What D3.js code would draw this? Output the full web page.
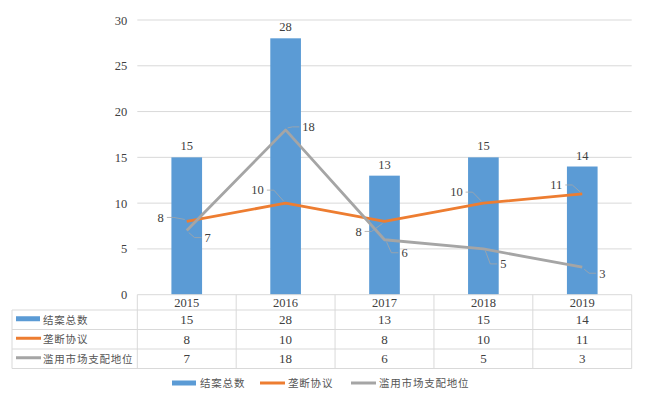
<!DOCTYPE html>
<html>
<head>
<meta charset="utf-8">
<script src="https://cdn.jsdelivr.net/npm/d3@7"></script>
<style>
	body { margin: 0; background: #fff; }
	svg { display: block; }
</style>
</head>
<body>
<script>
// chart data
var years = ['2015', '2016', '2017', '2018', '2019'];
var totalCases = [15, 28, 13, 15, 14];
var monopolyAgreements = [8, 10, 8, 10, 11];
var dominanceAbuse = [7, 18, 6, 5, 3];
var yTicks = [0, 5, 10, 15, 20, 25, 30];
var seriesNames = ['结案总数', '垄断协议', '滥用市场支配地位'];

// label offsets for the two line series (relative to the point)
var agreementLabelOffset = [[-26, -4], [-28, -13], [-26, 10], [-27, -11], [-26, -9]];
var abuseLabelOffset = [[21, 7], [23, -3], [20, 13], [20, 15], [20, 6]];

var W = 647, H = 398;
var BLUE = '#5B9BD5', ORANGE = '#ED7D31', GRAY = '#A5A5A5';
var GRID = '#D9D9D9';
var NUM_FONT = '"Liberation Serif", "Times New Roman", serif';
var CJK_FONT = '"Noto Sans CJK SC", sans-serif';
var TEXT = '#404040';

var svg = d3.select('body').append('svg')
	.attr('width', W)
	.attr('height', H);

var x = d3.scaleBand().domain(years).range([137.3, 631.7]);
var y = d3.scaleLinear().domain([0, 30]).range([294.7, 20]);
var barW = x.bandwidth() * 0.31;
var cx = function(i) { return x(years[i]) + x.bandwidth() / 2; };

// ------------------------ GRIDLINES + Y AXIS ------------------------
svg.append('g').selectAll('line')
	.data(yTicks.filter(function(t) { return t > 0; }))
	.enter().append('line')
	.attr('x1', x.range()[0]).attr('x2', x.range()[1])
	.attr('y1', function(d) { return y(d); }).attr('y2', function(d) { return y(d); })
	.attr('stroke', GRID).attr('stroke-width', 1);

var yAxis = svg.append('g')
	.attr('transform', 'translate(' + (x.range()[0] - 10) + ',0)')
	.call(d3.axisLeft(y).tickValues(yTicks).tickSize(0).tickPadding(0));
yAxis.select('.domain').remove();
yAxis.selectAll('text')
	.attr('font-family', NUM_FONT)
	.attr('font-size', '12.5px')
	.attr('fill', TEXT);

// ------------------------ BARS ------------------------
svg.append('g').selectAll('rect')
	.data(totalCases)
	.enter().append('rect')
	.attr('x', function(d, i) { return cx(i) - barW / 2; })
	.attr('y', function(d) { return y(d); })
	.attr('width', barW)
	.attr('height', function(d) { return y(0) - y(d); })
	.attr('fill', BLUE);

svg.append('g').selectAll('text')
	.data(totalCases)
	.enter().append('text')
	.attr('x', function(d, i) { return cx(i); })
	.attr('y', function(d) { return y(d) - 7; })
	.attr('text-anchor', 'middle')
	.attr('font-family', NUM_FONT)
	.attr('font-size', '12.5px')
	.attr('fill', TEXT)
	.text(function(d) { return d; });

// ------------------------ LINES ------------------------
var line = d3.line()
	.x(function(d, i) { return cx(i); })
	.y(function(d) { return y(d); });

svg.append('path').datum(monopolyAgreements)
	.attr('d', line).attr('fill', 'none')
	.attr('stroke', ORANGE).attr('stroke-width', 2.8)
	.attr('stroke-linejoin', 'round');

svg.append('path').datum(dominanceAbuse)
	.attr('d', line).attr('fill', 'none')
	.attr('stroke', GRAY).attr('stroke-width', 2.8)
	.attr('stroke-linejoin', 'round');

// data labels with little leader lines
function lineLabels(values, offsets) {
	var g = svg.append('g');
	values.forEach(function(v, i) {
		var px = cx(i), py = y(v);
		var lx = px + offsets[i][0], ly = py + offsets[i][1];
		var t = g.append('text')
			.attr('x', lx).attr('y', ly + 4.3)
			.attr('text-anchor', 'middle')
			.attr('font-family', NUM_FONT)
			.attr('font-size', '12.5px')
			.attr('fill', TEXT)
			.text(v);
		var tw = t.node().getComputedTextLength();
		var dir = offsets[i][0] < 0 ? 1 : -1; // leader heads toward the point
		var sx = lx + dir * (tw / 2 + 3);
		var ex = sx + dir * 7;
		var endX = px - dir * 2, endY = py + (ly > py ? 2 : -2);
		g.append('polyline')
			.attr('points', [[sx, ly], [ex, ly], [endX, endY]].map(function(p) { return p.join(','); }).join(' '))
			.attr('fill', 'none')
			.attr('stroke', '#A6A6A6')
			.attr('stroke-width', 0.8);
	});
}
lineLabels(monopolyAgreements, agreementLabelOffset);
lineLabels(dominanceAbuse, abuseLabelOffset);

// ------------------------ DATA TABLE ------------------------
var tableTop = y(0), headerBottom = 310, rowH = 19.5;
var tableLeft = 12, tableRight = x.range()[1];
var rows = [totalCases, monopolyAgreements, dominanceAbuse];
var tableBottom = headerBottom + rowH * rows.length;
var tbl = svg.append('g').attr('stroke', GRID).attr('stroke-width', 1);

// axis line / table top
tbl.append('line').attr('x1', x.range()[0]).attr('x2', tableRight)
	.attr('y1', tableTop).attr('y2', tableTop);
for (var r = 0; r <= rows.length; r++) {
	tbl.append('line').attr('x1', tableLeft).attr('x2', tableRight)
		.attr('y1', headerBottom + r * rowH).attr('y2', headerBottom + r * rowH);
}
tbl.append('line').attr('x1', tableLeft).attr('x2', tableLeft)
	.attr('y1', headerBottom).attr('y2', tableBottom);
years.forEach(function(yr, i) {
	tbl.append('line').attr('x1', x(yr)).attr('x2', x(yr))
		.attr('y1', tableTop).attr('y2', tableBottom);
});
tbl.append('line').attr('x1', tableRight).attr('x2', tableRight)
	.attr('y1', tableTop).attr('y2', tableBottom);

// header (years)
svg.append('g').selectAll('text')
	.data(years)
	.enter().append('text')
	.attr('x', function(d, i) { return cx(i); })
	.attr('y', (tableTop + headerBottom) / 2 + 4.3)
	.attr('text-anchor', 'middle')
	.attr('font-family', NUM_FONT)
	.attr('font-size', '12.5px')
	.attr('fill', TEXT)
	.text(function(d) { return d; });

// values
rows.forEach(function(vals, r) {
	var rowMid = headerBottom + r * rowH + rowH / 2;
	svg.append('g').selectAll('text')
		.data(vals)
		.enter().append('text')
		.attr('x', function(d, i) { return cx(i); })
		.attr('y', rowMid + 4.5)
		.attr('text-anchor', 'middle')
		.attr('font-family', NUM_FONT)
		.attr('font-size', '13px')
		.attr('fill', TEXT)
		.text(function(d) { return d; });
});

// legend keys
function legendKey(g, k, kx, ky) {
	if (k === 0) {
		g.append('rect').attr('x', kx).attr('y', ky - 2.5).attr('width', 24).attr('height', 5).attr('fill', BLUE);
	} else {
		g.append('line').attr('x1', kx).attr('x2', kx + 25).attr('y1', ky).attr('y2', ky)
			.attr('stroke', k === 1 ? ORANGE : GRAY).attr('stroke-width', 3);
	}
}

seriesNames.forEach(function(name, r) {
	var rowMid = headerBottom + r * rowH + rowH / 2;
	legendKey(svg, r, 16, rowMid - 1);
	svg.append('text')
		.attr('x', 43).attr('y', rowMid + 3.8)
		.attr('font-family', CJK_FONT)
		.attr('font-size', '10.5px')
		.attr('letter-spacing', '0.8px')
		.attr('fill', '#555')
		.text(name);
});

// ------------------------ BOTTOM LEGEND ------------------------
var legendX = [172, 260, 351];
var legendY = 383;
seriesNames.forEach(function(name, k) {
	legendKey(svg, k, legendX[k], legendY);
	svg.append('text')
		.attr('x', legendX[k] + 28).attr('y', legendY + 3.8)
		.attr('font-family', CJK_FONT)
		.attr('font-size', '10.5px')
		.attr('letter-spacing', '0.8px')
		.attr('fill', '#555')
		.text(name);
});
</script>
</body>
</html>
